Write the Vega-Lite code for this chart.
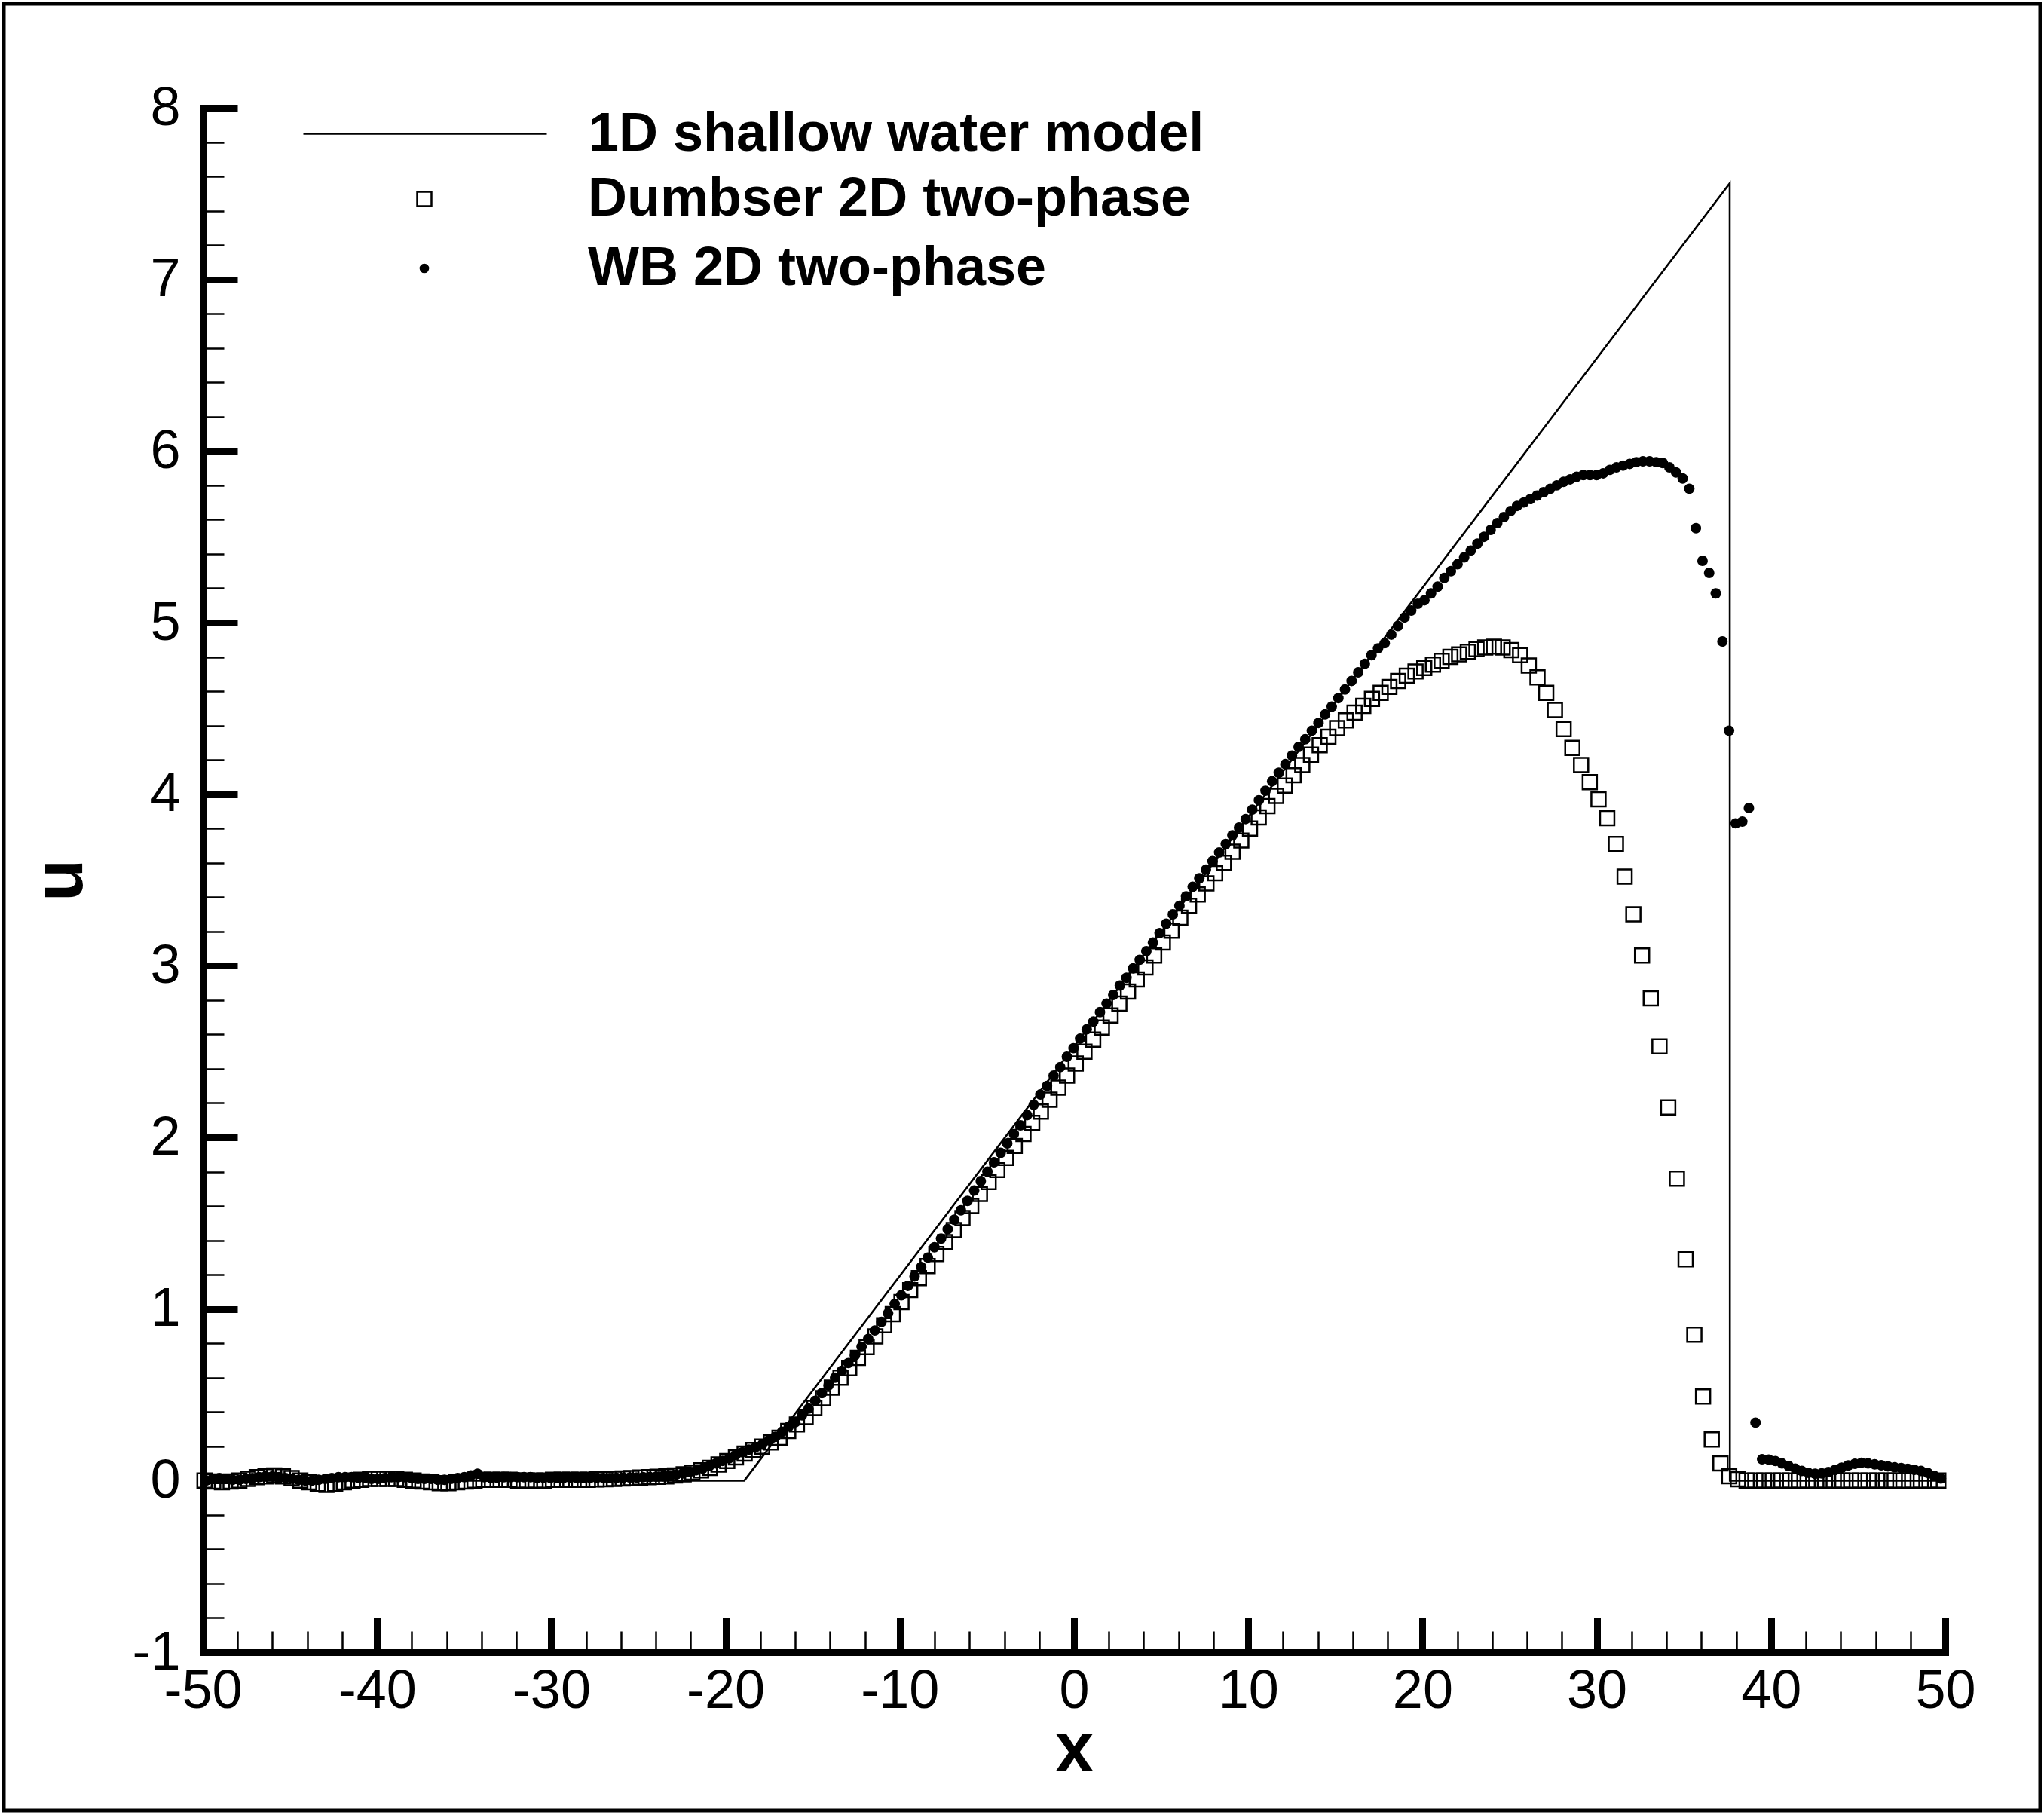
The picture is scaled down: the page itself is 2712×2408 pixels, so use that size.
{
  "$schema": "https://vega.github.io/schema/vega-lite/v6.json",
  "width": 2702,
  "height": 2397,
  "autosize": {"type": "none"},
  "padding": {"left": 5, "top": 5, "right": 5, "bottom": 6},
  "background": "white",
  "config": {
    "font": "Liberation Sans",
    "view": {"stroke": "black", "strokeWidth": 5},
    "axis": {"grid": false, "labelColor": "black", "titleColor": "black", "domainColor": "black", "tickColor": "black"},
    "legend": {"padding": 0, "labelColor": "black", "labelFontSize": 72, "labelFontWeight": "bold", "labelLimit": 2000}
  },
  "datasets": {
    "model": [
      {"x": -50, "u": 0}, {"x": -18.92, "u": 0}, {"x": 37.63, "u": 7.56}, {"x": 37.64, "u": 0}, {"x": 50, "u": 0}
    ],
    "dumbser": [
      {"x": -49.9, "u": 0}, {"x": -49.4, "u": -0.005}, {"x": -48.9, "u": -0.01}, {"x": -48.4, "u": -0.005}, {"x": -47.9, "u": 0},
      {"x": -47.4, "u": 0.01}, {"x": -46.9, "u": 0.02}, {"x": -46.4, "u": 0.025}, {"x": -45.9, "u": 0.03}, {"x": -45.4, "u": 0.025},
      {"x": -44.9, "u": 0.015}, {"x": -44.4, "u": 0}, {"x": -43.9, "u": -0.01}, {"x": -43.4, "u": -0.02}, {"x": -42.9, "u": -0.025},
      {"x": -42.4, "u": -0.02}, {"x": -41.9, "u": -0.01}, {"x": -41.4, "u": 0}, {"x": -40.9, "u": 0.005}, {"x": -40.4, "u": 0.01},
      {"x": -39.9, "u": 0.01}, {"x": -39.4, "u": 0.01}, {"x": -38.9, "u": 0.01}, {"x": -38.4, "u": 0.005}, {"x": -37.9, "u": 0},
      {"x": -37.4, "u": -0.005}, {"x": -36.9, "u": -0.01}, {"x": -36.4, "u": -0.015}, {"x": -35.9, "u": -0.015}, {"x": -35.4, "u": -0.01},
      {"x": -34.9, "u": -0.005}, {"x": -34.4, "u": 0}, {"x": -33.9, "u": 0.005}, {"x": -33.4, "u": 0.005}, {"x": -32.9, "u": 0.005},
      {"x": -32.4, "u": 0.005}, {"x": -31.9, "u": 0}, {"x": -31.4, "u": 0}, {"x": -30.9, "u": 0}, {"x": -30.4, "u": 0},
      {"x": -29.9, "u": 0.005}, {"x": -29.4, "u": 0.005}, {"x": -28.9, "u": 0.005}, {"x": -28.4, "u": 0.005}, {"x": -27.9, "u": 0.005},
      {"x": -27.4, "u": 0.007}, {"x": -26.9, "u": 0.008}, {"x": -26.4, "u": 0.01}, {"x": -25.9, "u": 0.012}, {"x": -25.4, "u": 0.015},
      {"x": -24.9, "u": 0.018}, {"x": -24.4, "u": 0.02}, {"x": -23.9, "u": 0.022}, {"x": -23.4, "u": 0.025}, {"x": -22.9, "u": 0.03},
      {"x": -22.4, "u": 0.037}, {"x": -21.9, "u": 0.047}, {"x": -21.4, "u": 0.06}, {"x": -20.9, "u": 0.074}, {"x": -20.4, "u": 0.094},
      {"x": -19.9, "u": 0.114}, {"x": -19.4, "u": 0.135}, {"x": -18.9, "u": 0.157}, {"x": -18.4, "u": 0.178}, {"x": -17.9, "u": 0.198},
      {"x": -17.4, "u": 0.222}, {"x": -16.9, "u": 0.25}, {"x": -16.4, "u": 0.289}, {"x": -15.9, "u": 0.327}, {"x": -15.4, "u": 0.37},
      {"x": -14.9, "u": 0.423}, {"x": -14.4, "u": 0.48}, {"x": -13.9, "u": 0.542}, {"x": -13.4, "u": 0.6}, {"x": -12.9, "u": 0.655},
      {"x": -12.4, "u": 0.715}, {"x": -11.9, "u": 0.778}, {"x": -11.4, "u": 0.84}, {"x": -10.9, "u": 0.905}, {"x": -10.4, "u": 0.97},
      {"x": -9.9, "u": 1.04}, {"x": -9.4, "u": 1.11}, {"x": -8.9, "u": 1.18}, {"x": -8.4, "u": 1.25}, {"x": -7.9, "u": 1.32},
      {"x": -7.4, "u": 1.39}, {"x": -6.9, "u": 1.46}, {"x": -6.4, "u": 1.53}, {"x": -5.9, "u": 1.6}, {"x": -5.4, "u": 1.67},
      {"x": -4.9, "u": 1.74}, {"x": -4.4, "u": 1.81}, {"x": -3.9, "u": 1.88}, {"x": -3.4, "u": 1.95}, {"x": -2.9, "u": 2.02},
      {"x": -2.4, "u": 2.085}, {"x": -1.9, "u": 2.15}, {"x": -1.4, "u": 2.22}, {"x": -0.9, "u": 2.29}, {"x": -0.4, "u": 2.36},
      {"x": 0.1, "u": 2.43}, {"x": 0.6, "u": 2.5}, {"x": 1.1, "u": 2.57}, {"x": 1.6, "u": 2.64}, {"x": 2.1, "u": 2.71},
      {"x": 2.6, "u": 2.78}, {"x": 3.1, "u": 2.85}, {"x": 3.6, "u": 2.92}, {"x": 4.1, "u": 2.99}, {"x": 4.6, "u": 3.06},
      {"x": 5.1, "u": 3.135}, {"x": 5.6, "u": 3.205}, {"x": 6.1, "u": 3.28}, {"x": 6.6, "u": 3.35}, {"x": 7.1, "u": 3.415},
      {"x": 7.6, "u": 3.48}, {"x": 8.1, "u": 3.54}, {"x": 8.6, "u": 3.6}, {"x": 9.1, "u": 3.665}, {"x": 9.6, "u": 3.73},
      {"x": 10.1, "u": 3.8}, {"x": 10.6, "u": 3.865}, {"x": 11.1, "u": 3.93}, {"x": 11.6, "u": 3.99}, {"x": 12.1, "u": 4.05},
      {"x": 12.6, "u": 4.11}, {"x": 13.1, "u": 4.17}, {"x": 13.6, "u": 4.23}, {"x": 14.1, "u": 4.285}, {"x": 14.6, "u": 4.335},
      {"x": 15.1, "u": 4.385}, {"x": 15.6, "u": 4.43}, {"x": 16.1, "u": 4.475}, {"x": 16.6, "u": 4.515}, {"x": 17.1, "u": 4.555},
      {"x": 17.6, "u": 4.59}, {"x": 18.1, "u": 4.625}, {"x": 18.6, "u": 4.66}, {"x": 19.1, "u": 4.69}, {"x": 19.6, "u": 4.715},
      {"x": 20.1, "u": 4.735}, {"x": 20.6, "u": 4.755}, {"x": 21.1, "u": 4.777}, {"x": 21.6, "u": 4.8}, {"x": 22.1, "u": 4.815},
      {"x": 22.6, "u": 4.83}, {"x": 23.1, "u": 4.845}, {"x": 23.6, "u": 4.855}, {"x": 24.1, "u": 4.86}, {"x": 24.6, "u": 4.855},
      {"x": 25.1, "u": 4.84}, {"x": 25.6, "u": 4.81}, {"x": 26.1, "u": 4.75}, {"x": 26.6, "u": 4.68}, {"x": 27.1, "u": 4.59},
      {"x": 27.6, "u": 4.49}, {"x": 28.1, "u": 4.38}, {"x": 28.6, "u": 4.27}, {"x": 29.1, "u": 4.17}, {"x": 29.6, "u": 4.07},
      {"x": 30.1, "u": 3.97}, {"x": 30.6, "u": 3.86}, {"x": 31.1, "u": 3.71}, {"x": 31.6, "u": 3.52}, {"x": 32.1, "u": 3.3},
      {"x": 32.6, "u": 3.06}, {"x": 33.1, "u": 2.81}, {"x": 33.6, "u": 2.53}, {"x": 34.1, "u": 2.175}, {"x": 34.6, "u": 1.76},
      {"x": 35.1, "u": 1.29}, {"x": 35.6, "u": 0.85}, {"x": 36.1, "u": 0.49}, {"x": 36.6, "u": 0.24}, {"x": 37.1, "u": 0.1},
      {"x": 37.6, "u": 0.026}, {"x": 38.1, "u": 0.008}, {"x": 38.6, "u": 0}, {"x": 39.1, "u": 0}, {"x": 39.6, "u": 0},
      {"x": 40.1, "u": 0}, {"x": 40.6, "u": 0}, {"x": 41.1, "u": 0}, {"x": 41.6, "u": 0}, {"x": 42.1, "u": 0},
      {"x": 42.6, "u": 0}, {"x": 43.1, "u": 0}, {"x": 43.6, "u": 0}, {"x": 44.1, "u": 0}, {"x": 44.6, "u": 0},
      {"x": 45.1, "u": 0}, {"x": 45.6, "u": 0}, {"x": 46.1, "u": 0}, {"x": 46.6, "u": 0}, {"x": 47.1, "u": 0},
      {"x": 47.6, "u": 0}, {"x": 48.1, "u": 0}, {"x": 48.6, "u": 0}, {"x": 49.1, "u": 0}, {"x": 49.6, "u": 0}
    ],
    "wb": [
      {"x": -49.81, "u": 0}, {"x": -49.43, "u": 0.01}, {"x": -49.05, "u": 0.015}, {"x": -48.67, "u": 0.01}, {"x": -48.29, "u": 0.005},
      {"x": -47.91, "u": 0.005}, {"x": -47.53, "u": 0.01}, {"x": -47.15, "u": 0.015}, {"x": -46.77, "u": 0.02}, {"x": -46.39, "u": 0.025},
      {"x": -46.01, "u": 0.025}, {"x": -45.63, "u": 0.02}, {"x": -45.25, "u": 0.015}, {"x": -44.87, "u": 0.01}, {"x": -44.49, "u": 0.005},
      {"x": -44.11, "u": 0}, {"x": -43.73, "u": 0}, {"x": -43.35, "u": 0.005}, {"x": -42.97, "u": 0.01}, {"x": -42.59, "u": 0.015},
      {"x": -42.21, "u": 0.02}, {"x": -41.83, "u": 0.02}, {"x": -41.45, "u": 0.02}, {"x": -41.07, "u": 0.015}, {"x": -40.69, "u": 0.015},
      {"x": -40.31, "u": 0.01}, {"x": -39.93, "u": 0.01}, {"x": -39.55, "u": 0.015}, {"x": -39.17, "u": 0.02}, {"x": -38.79, "u": 0.02},
      {"x": -38.41, "u": 0.02}, {"x": -38.03, "u": 0.015}, {"x": -37.65, "u": 0.01}, {"x": -37.27, "u": 0.01}, {"x": -36.89, "u": 0.01},
      {"x": -36.51, "u": 0.005}, {"x": -36.13, "u": 0.005}, {"x": -35.75, "u": 0.01}, {"x": -35.37, "u": 0.015}, {"x": -34.99, "u": 0.02},
      {"x": -34.61, "u": 0.03}, {"x": -34.23, "u": 0.04}, {"x": -33.85, "u": 0.02}, {"x": -33.47, "u": 0.015}, {"x": -33.09, "u": 0.015},
      {"x": -32.71, "u": 0.02}, {"x": -32.33, "u": 0.02}, {"x": -31.95, "u": 0.02}, {"x": -31.57, "u": 0.02}, {"x": -31.19, "u": 0.02},
      {"x": -30.81, "u": 0.015}, {"x": -30.43, "u": 0.015}, {"x": -30.05, "u": 0.015}, {"x": -29.67, "u": 0.015}, {"x": -29.29, "u": 0.015},
      {"x": -28.91, "u": 0.015}, {"x": -28.53, "u": 0.015}, {"x": -28.15, "u": 0.015}, {"x": -27.77, "u": 0.015}, {"x": -27.39, "u": 0.015},
      {"x": -27.01, "u": 0.015}, {"x": -26.63, "u": 0.015}, {"x": -26.25, "u": 0.016}, {"x": -25.87, "u": 0.017}, {"x": -25.49, "u": 0.018},
      {"x": -25.11, "u": 0.018}, {"x": -24.73, "u": 0.02}, {"x": -24.35, "u": 0.021}, {"x": -23.97, "u": 0.023}, {"x": -23.59, "u": 0.026},
      {"x": -23.21, "u": 0.03}, {"x": -22.83, "u": 0.035}, {"x": -22.45, "u": 0.042}, {"x": -22.07, "u": 0.05}, {"x": -21.69, "u": 0.06},
      {"x": -21.31, "u": 0.07}, {"x": -20.93, "u": 0.085}, {"x": -20.55, "u": 0.1}, {"x": -20.17, "u": 0.115}, {"x": -19.79, "u": 0.13},
      {"x": -19.41, "u": 0.15}, {"x": -19.03, "u": 0.165}, {"x": -18.65, "u": 0.18}, {"x": -18.27, "u": 0.195}, {"x": -17.89, "u": 0.21},
      {"x": -17.51, "u": 0.235}, {"x": -17.13, "u": 0.255}, {"x": -16.75, "u": 0.285}, {"x": -16.37, "u": 0.315}, {"x": -15.99, "u": 0.34},
      {"x": -15.61, "u": 0.38}, {"x": -15.23, "u": 0.42}, {"x": -14.85, "u": 0.465}, {"x": -14.47, "u": 0.51}, {"x": -14.09, "u": 0.555},
      {"x": -13.71, "u": 0.6}, {"x": -13.33, "u": 0.64}, {"x": -12.95, "u": 0.685}, {"x": -12.57, "u": 0.73}, {"x": -12.19, "u": 0.78},
      {"x": -11.81, "u": 0.825}, {"x": -11.43, "u": 0.875}, {"x": -11.05, "u": 0.925}, {"x": -10.67, "u": 0.975}, {"x": -10.29, "u": 1.03},
      {"x": -9.91, "u": 1.08}, {"x": -9.53, "u": 1.135}, {"x": -9.15, "u": 1.19}, {"x": -8.77, "u": 1.245}, {"x": -8.39, "u": 1.3},
      {"x": -8.01, "u": 1.36}, {"x": -7.63, "u": 1.41}, {"x": -7.25, "u": 1.465}, {"x": -6.87, "u": 1.52}, {"x": -6.49, "u": 1.575},
      {"x": -6.11, "u": 1.63}, {"x": -5.73, "u": 1.69}, {"x": -5.35, "u": 1.745}, {"x": -4.97, "u": 1.8}, {"x": -4.59, "u": 1.855},
      {"x": -4.21, "u": 1.91}, {"x": -3.83, "u": 1.965}, {"x": -3.45, "u": 2.02}, {"x": -3.07, "u": 2.07}, {"x": -2.69, "u": 2.13},
      {"x": -2.31, "u": 2.19}, {"x": -1.93, "u": 2.25}, {"x": -1.55, "u": 2.3}, {"x": -1.17, "u": 2.36}, {"x": -0.79, "u": 2.41},
      {"x": -0.41, "u": 2.47}, {"x": -0.03, "u": 2.52}, {"x": 0.35, "u": 2.575}, {"x": 0.73, "u": 2.63}, {"x": 1.11, "u": 2.675},
      {"x": 1.49, "u": 2.73}, {"x": 1.87, "u": 2.78}, {"x": 2.25, "u": 2.83}, {"x": 2.63, "u": 2.885}, {"x": 3.01, "u": 2.93},
      {"x": 3.39, "u": 2.985}, {"x": 3.77, "u": 3.035}, {"x": 4.15, "u": 3.085}, {"x": 4.53, "u": 3.135}, {"x": 4.91, "u": 3.19},
      {"x": 5.29, "u": 3.245}, {"x": 5.67, "u": 3.3}, {"x": 6.05, "u": 3.35}, {"x": 6.43, "u": 3.405}, {"x": 6.81, "u": 3.46},
      {"x": 7.19, "u": 3.51}, {"x": 7.57, "u": 3.56}, {"x": 7.95, "u": 3.61}, {"x": 8.33, "u": 3.66}, {"x": 8.71, "u": 3.71},
      {"x": 9.09, "u": 3.76}, {"x": 9.47, "u": 3.805}, {"x": 9.85, "u": 3.855}, {"x": 10.23, "u": 3.91}, {"x": 10.61, "u": 3.965},
      {"x": 10.99, "u": 4.02}, {"x": 11.37, "u": 4.075}, {"x": 11.75, "u": 4.125}, {"x": 12.13, "u": 4.175}, {"x": 12.51, "u": 4.225},
      {"x": 12.89, "u": 4.275}, {"x": 13.27, "u": 4.32}, {"x": 13.65, "u": 4.37}, {"x": 14.03, "u": 4.415}, {"x": 14.41, "u": 4.465},
      {"x": 14.79, "u": 4.51}, {"x": 15.17, "u": 4.56}, {"x": 15.55, "u": 4.61}, {"x": 15.93, "u": 4.66}, {"x": 16.31, "u": 4.71},
      {"x": 16.69, "u": 4.76}, {"x": 17.07, "u": 4.81}, {"x": 17.45, "u": 4.85}, {"x": 17.83, "u": 4.88}, {"x": 18.21, "u": 4.93},
      {"x": 18.59, "u": 4.98}, {"x": 18.97, "u": 5.03}, {"x": 19.35, "u": 5.07}, {"x": 19.73, "u": 5.11}, {"x": 20.11, "u": 5.13},
      {"x": 20.49, "u": 5.17}, {"x": 20.87, "u": 5.21}, {"x": 21.25, "u": 5.26}, {"x": 21.63, "u": 5.3}, {"x": 22.01, "u": 5.34},
      {"x": 22.39, "u": 5.38}, {"x": 22.77, "u": 5.42}, {"x": 23.15, "u": 5.46}, {"x": 23.53, "u": 5.5}, {"x": 23.91, "u": 5.54},
      {"x": 24.29, "u": 5.58}, {"x": 24.67, "u": 5.615}, {"x": 25.05, "u": 5.65}, {"x": 25.43, "u": 5.68}, {"x": 25.81, "u": 5.7},
      {"x": 26.19, "u": 5.72}, {"x": 26.57, "u": 5.74}, {"x": 26.95, "u": 5.76}, {"x": 27.33, "u": 5.78}, {"x": 27.71, "u": 5.8},
      {"x": 28.09, "u": 5.82}, {"x": 28.47, "u": 5.835}, {"x": 28.85, "u": 5.85}, {"x": 29.23, "u": 5.86}, {"x": 29.61, "u": 5.86},
      {"x": 29.99, "u": 5.86}, {"x": 30.37, "u": 5.87}, {"x": 30.75, "u": 5.89}, {"x": 31.13, "u": 5.905}, {"x": 31.51, "u": 5.915},
      {"x": 31.89, "u": 5.925}, {"x": 32.27, "u": 5.935}, {"x": 32.65, "u": 5.94}, {"x": 33.03, "u": 5.94}, {"x": 33.41, "u": 5.935},
      {"x": 33.79, "u": 5.93}, {"x": 34.17, "u": 5.905}, {"x": 34.55, "u": 5.875}, {"x": 34.93, "u": 5.84}, {"x": 35.31, "u": 5.78},
      {"x": 35.69, "u": 5.55}, {"x": 36.07, "u": 5.36}, {"x": 36.45, "u": 5.29}, {"x": 36.83, "u": 5.17}, {"x": 37.21, "u": 4.89},
      {"x": 37.59, "u": 4.37}, {"x": 37.97, "u": 3.83}, {"x": 38.35, "u": 3.84}, {"x": 38.73, "u": 3.92}, {"x": 39.11, "u": 0.338},
      {"x": 39.49, "u": 0.124}, {"x": 39.87, "u": 0.122}, {"x": 40.25, "u": 0.114}, {"x": 40.63, "u": 0.1}, {"x": 41.01, "u": 0.085},
      {"x": 41.39, "u": 0.07}, {"x": 41.77, "u": 0.056}, {"x": 42.15, "u": 0.045}, {"x": 42.53, "u": 0.04}, {"x": 42.91, "u": 0.042},
      {"x": 43.29, "u": 0.05}, {"x": 43.67, "u": 0.062}, {"x": 44.05, "u": 0.075}, {"x": 44.43, "u": 0.088}, {"x": 44.81, "u": 0.098},
      {"x": 45.19, "u": 0.104}, {"x": 45.57, "u": 0.1}, {"x": 45.95, "u": 0.095}, {"x": 46.33, "u": 0.089}, {"x": 46.71, "u": 0.083},
      {"x": 47.09, "u": 0.077}, {"x": 47.47, "u": 0.073}, {"x": 47.85, "u": 0.068}, {"x": 48.23, "u": 0.063}, {"x": 48.61, "u": 0.056},
      {"x": 48.99, "u": 0.045}, {"x": 49.37, "u": 0.028}, {"x": 49.75, "u": 0.012}
    ]
  },
  "resolve": {"axis": {"x": "independent", "y": "independent"}},
  "layer": [
    {
      "data": {"name": "model"},
      "mark": {"type": "line", "strokeWidth": 2.6},
      "encoding": {
        "x": {
          "field": "x", "type": "quantitative",
          "scale": {"domain": [-50, 50], "range": [264, 2576], "nice": false, "zero": false},
          "axis": {
            "orient": "bottom", "offset": -210,
            "values": [-50, -40, -30, -20, -10, 0, 10, 20, 30, 40, 50],
            "ticks": false, "domain": true, "domainWidth": 9, "domainCap": "square",
            "labelFontSize": 72, "labelPadding": 16, "labelFlush": false, "labelOverlap": false,
            "labelExpr": "'' + datum.value",
            "title": "x", "titleFontSize": 92, "titleFontWeight": "bold",
            "titleY": 157, "titleBaseline": "alphabetic"
          }
        },
        "y": {
          "field": "u", "type": "quantitative",
          "scale": {"domain": [-1, 8], "range": [2187, 138], "nice": false, "zero": false},
          "axis": {
            "orient": "left", "offset": -264,
            "values": [-1, 0, 1, 2, 3, 4, 5, 6, 7, 8],
            "ticks": false, "domain": true, "domainWidth": 9, "domainCap": "square",
            "labelFontSize": 72, "labelPadding": 30, "labelFlush": false, "labelOverlap": false,
            "labelExpr": "'' + datum.value",
            "title": "u", "titleFontSize": 92, "titleFontWeight": "bold",
            "titleAngle": 270, "titleX": -161, "titleBaseline": "alphabetic", "titleAlign": "center"
          }
        },
        "color": {
          "datum": "1D shallow water model",
          "scale": {"range": ["black"]},
          "legend": {
            "orient": "none", "legendX": 396, "legendY": 9.5, "title": null,
            "symbolType": "stroke", "symbolSize": 104329, "symbolStrokeWidth": 2.6,
            "labelOffset": 54
          }
        }
      }
    },
    {
      "data": {"name": "dumbser"},
      "mark": {"type": "point", "filled": false, "size": 360, "strokeWidth": 2.5, "color": "black", "opacity": 1},
      "encoding": {
        "x": {
          "field": "x", "type": "quantitative",
          "scale": {"domain": [-50, 50], "range": [264, 2576], "nice": false, "zero": false},
          "axis": {
            "orient": "bottom", "offset": -210,
            "values": [-50, -40, -30, -20, -10, 0, 10, 20, 30, 40, 50],
            "labels": false, "domain": false, "ticks": true, "tickSize": -46, "tickWidth": 9, "title": null
          }
        },
        "y": {
          "field": "u", "type": "quantitative",
          "scale": {"domain": [-1, 8], "range": [2187, 138], "nice": false, "zero": false},
          "axis": {
            "orient": "left", "offset": -264,
            "values": [-1, 0, 1, 2, 3, 4, 5, 6, 7, 8],
            "labels": false, "domain": false, "ticks": true, "tickSize": -46, "tickWidth": 9, "title": null
          }
        },
        "shape": {
          "datum": "Dumbser 2D two-phase",
          "scale": {"range": ["square"]},
          "legend": {
            "orient": "none", "legendX": 522, "legendY": 223, "title": null,
            "symbolSize": 360, "symbolStrokeWidth": 2.5, "symbolStrokeColor": "black",
            "labelOffset": 181
          }
        }
      }
    },
    {
      "data": {"name": "wb"},
      "mark": {"type": "point", "shape": "circle", "filled": true, "size": 195, "opacity": 1},
      "encoding": {
        "x": {
          "field": "x", "type": "quantitative",
          "scale": {"domain": [-50, 50], "range": [264, 2576], "nice": false, "zero": false},
          "axis": {
            "orient": "bottom", "offset": -210,
            "values": [-48, -46, -44, -42, -38, -36, -34, -32, -28, -26, -24, -22, -18, -16, -14, -12, -8, -6, -4, -2, 2, 4, 6, 8, 12, 14, 16, 18, 22, 24, 26, 28, 32, 34, 36, 38, 42, 44, 46, 48],
            "labels": false, "domain": false, "ticks": true, "tickSize": -28, "tickWidth": 2.5, "title": null
          }
        },
        "y": {
          "field": "u", "type": "quantitative",
          "scale": {"domain": [-1, 8], "range": [2187, 138], "nice": false, "zero": false},
          "axis": {
            "orient": "left", "offset": -264,
            "values": [-0.8, -0.6, -0.4, -0.2, 0.2, 0.4, 0.6, 0.8, 1.2, 1.4, 1.6, 1.8, 2.2, 2.4, 2.6, 2.8, 3.2, 3.4, 3.6, 3.8, 4.2, 4.4, 4.6, 4.8, 5.2, 5.4, 5.6, 5.8, 6.2, 6.4, 6.6, 6.8, 7.2, 7.4, 7.6, 7.8],
            "labels": false, "domain": false, "ticks": true, "tickSize": -28, "tickWidth": 2.5, "title": null
          }
        },
        "fill": {
          "datum": "WB 2D two-phase",
          "scale": {"range": ["black"]},
          "legend": {
            "orient": "none", "legendX": 522, "legendY": 315, "title": null,
            "symbolType": "circle", "symbolSize": 160,
            "labelOffset": 181
          }
        }
      }
    }
  ]
}
